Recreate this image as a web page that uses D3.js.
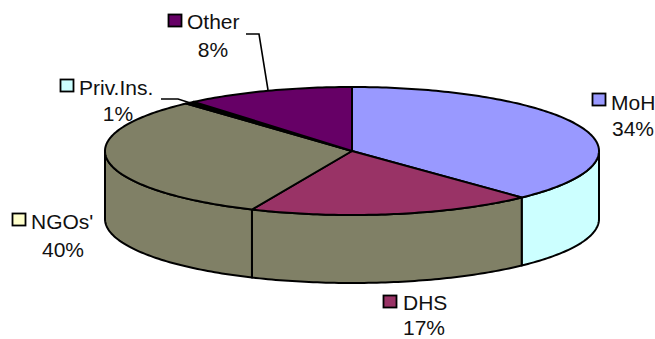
<!DOCTYPE html>
<html>
<head>
<meta charset="utf-8">
<script src="https://cdn.jsdelivr.net/npm/d3@7"></script>
<style>
  html, body { margin: 0; padding: 0; background: #fff; }
  svg { display: block; }
  text { font-family: "Liberation Sans", Arial, sans-serif; font-size: 21px; fill: #111; }
</style>
</head>
<body>
<svg id="chart" width="655" height="339"></svg>
<script>
// Funding shares, in percent, clockwise from twelve o'clock
const categories = ["MoH", "DHS", "NGOs'", "Priv.Ins.", "Other"];
const shares = [34, 17, 40, 1, 8];

// Slice colours: top face, outer wall, legend key
const topColors = ["#9999FF", "#993366", "#808066", "#000000", "#660066"];
const wallColors = ["#CCFFFF", "#808066", "#808066", "#808066", "#808066"];
const keyColors = ["#9999FF", "#993366", "#FFFFCC", "#CCFFFF", "#660066"];

// Cumulative share (percent) against its angle on the tilted disc (degrees):
// the view stretches the front of the disc and squeezes the back.
const tiltShare = [0, 34, 51, 91, 92, 100];
const tiltAngle = [0, 136.6, 203.9, 317.8, 320.2, 360];

// Label blocks: key corner, first-line text start, second-line centre, baselines
const labelLayout = [
  { key: [592, 93],  x: 611, cx: 633, y1: 110, y2: 136 },
  { key: [383, 295], x: 403, cx: 424, y1: 310, y2: 334.5 },
  { key: [12, 213],  x: 31,  cx: 63,  y1: 229, y2: 257 },
  { key: [60, 79],   x: 79,  cx: 118, y1: 95,  y2: 121 },
  { key: [168, 14],  x: 187, cx: 213, y1: 29,  y2: 57 }
];

// Leader lines from a label to its slice
const leaders = [
  { slice: 3, path: [[161, 99], [178, 99], [200, 106]] },
  { slice: 4, path: [[246, 34], [259, 34], [268, 90]] }
];

const cx = 352, cy = 151, rx = 247, ry = 64, depth = 68;
const deg = Math.PI / 180;

const viewAngle = d3.scaleLinear()
  .domain(tiltShare.map(p => p * 3.6 * deg))
  .range(tiltAngle.map(a => a * deg));

const rimX = a => cx + rx * Math.sin(a);
const rimY = a => cy - ry * Math.cos(a);

const svg = d3.select("#chart");
const line = d3.line();

const slices = d3.pie().sort(null).value(d => d)(shares).map((s, i) => ({
  i,
  value: s.value,
  a0: viewAngle(s.startAngle),
  a1: viewAngle(s.endAngle)
}));

function arcPoints(a0, a1, dy = 0) {
  const n = Math.max(2, Math.ceil((a1 - a0) / (1 * deg)));
  return d3.range(n + 1).map(k => {
    const a = a0 + (a1 - a0) * k / n;
    return [rimX(a), rimY(a) + dy];
  });
}

// Outer wall, only where the rim faces the viewer
const stroke = { color: "#000", width: 2 };
svg.append("g").selectAll("path")
  .data(slices.filter(s => s.a1 > Math.PI / 2 && s.a0 < 1.5 * Math.PI))
  .join("path")
  .attr("d", s => {
    const a0 = Math.max(s.a0, Math.PI / 2), a1 = Math.min(s.a1, 1.5 * Math.PI);
    return line([...arcPoints(a0, a1), ...arcPoints(a0, a1, depth).reverse()]) + "Z";
  })
  .attr("fill", s => wallColors[s.i])
  .attr("stroke", stroke.color)
  .attr("stroke-width", stroke.width)
  .attr("stroke-linejoin", "round");

// Top face
svg.append("g").selectAll("path")
  .data(slices)
  .join("path")
  .attr("d", s => line([[cx, cy], ...arcPoints(s.a0, s.a1)]) + "Z")
  .attr("fill", s => topColors[s.i])
  .attr("stroke", stroke.color)
  .attr("stroke-width", stroke.width)
  .attr("stroke-linejoin", "round");

// Leader lines
svg.append("g").selectAll("path")
  .data(leaders)
  .join("path")
  .attr("d", d => line(d.path))
  .attr("fill", "none")
  .attr("stroke", stroke.color)
  .attr("stroke-width", 1.6);

// Labels with colour keys
const labels = svg.append("g").selectAll("g")
  .data(slices)
  .join("g");

labels.append("rect")
  .attr("x", s => labelLayout[s.i].key[0] + 0.5)
  .attr("y", s => labelLayout[s.i].key[1] + 0.5)
  .attr("width", 13)
  .attr("height", 12)
  .attr("fill", s => keyColors[s.i])
  .attr("stroke", "#000")
  .attr("stroke-width", 1.8);

labels.append("text")
  .attr("x", s => labelLayout[s.i].x)
  .attr("y", s => labelLayout[s.i].y1)
  .text(s => categories[s.i]);

labels.append("text")
  .attr("x", s => labelLayout[s.i].cx)
  .attr("y", s => labelLayout[s.i].y2)
  .attr("text-anchor", "middle")
  .text(s => s.value + "%");
</script>
</body>
</html>
